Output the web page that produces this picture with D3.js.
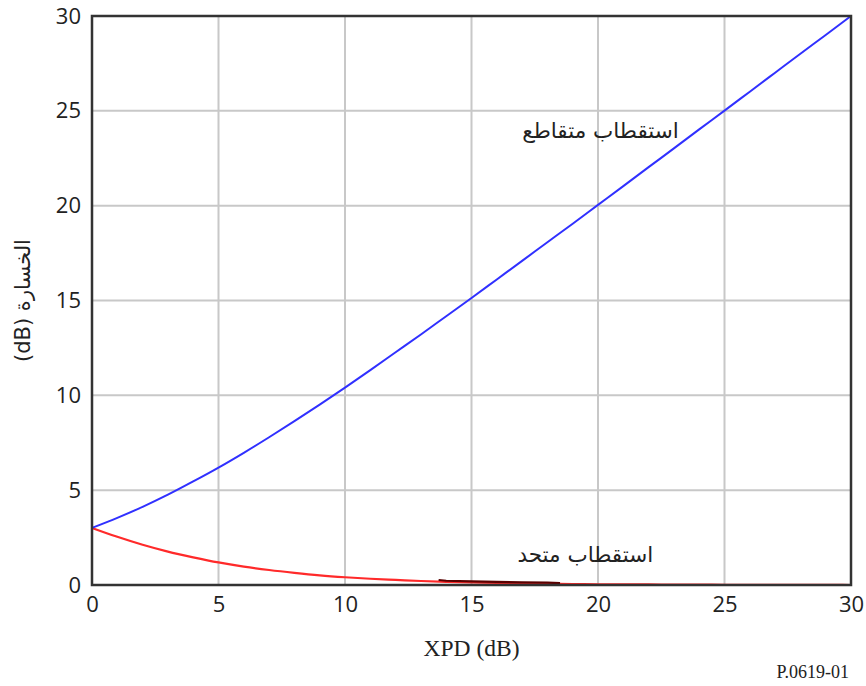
<!DOCTYPE html>
<html>
<head>
<meta charset="utf-8">
<script src="https://cdn.jsdelivr.net/npm/d3@7"></script>
<style>
  html, body { margin: 0; padding: 0; background: #fff; }
  svg { display: block; }
</style>
</head>
<body>
<div id="chart"></div>
<script>
// Polarization mismatch loss versus XPD
const xpd = [0,1,2,3,4,5,6,7,8,9,10,11,12,13,14,15,16,17,18,19,20,21,22,23,24,25,26,27,28,29,30];
const crossPolLoss = [3.01,3.54,4.12,4.76,5.46,6.19,6.97,7.79,8.64,9.51,10.41,11.33,12.27,13.21,14.17,15.13,16.11,17.09,18.07,19.05,20.04,21.03,22.03,23.02,24.02,25.01,26.01,27.01,28.01,29.00,30.00];
const coPolLoss = [3.01,2.54,2.12,1.76,1.46,1.19,0.97,0.79,0.64,0.51,0.41,0.33,0.27,0.21,0.17,0.14,0.11,0.09,0.07,0.05,0.04,0.03,0.03,0.02,0.02,0.01,0.01,0.01,0.01,0.01,0.00];
const xTicks = [0,5,10,15,20,25,30];
const yTicks = [0,5,10,15,20,25,30];
const darkSpan = [13.7, 18.5];

const W = 866, H = 686;
const m = { left: 92, top: 16, right: 15, bottom: 101 };
const iw = W - m.left - m.right, ih = H - m.top - m.bottom;

const svg = d3.select('#chart').append('svg').attr('width', W).attr('height', H);
const g = svg.append('g').attr('transform', `translate(${m.left},${m.top})`);

const x = d3.scaleLinear().domain([0, 30]).range([0, iw]);
const y = d3.scaleLinear().domain([0, 30]).range([ih, 0]);

// grid
g.append('g').selectAll('line.gx').data(xTicks.slice(1, -1)).join('line')
  .attr('x1', d => x(d)).attr('x2', d => x(d)).attr('y1', 0).attr('y2', ih)
  .attr('stroke', '#c8c8c8').attr('stroke-width', 2);
g.append('g').selectAll('line.gy').data(yTicks.slice(1, -1)).join('line')
  .attr('y1', d => y(d)).attr('y2', d => y(d)).attr('x1', 0).attr('x2', iw)
  .attr('stroke', '#c8c8c8').attr('stroke-width', 2);

// axes (tick labels only)
const xAxis = g.append('g').attr('transform', `translate(0,${ih})`)
  .call(d3.axisBottom(x).tickValues(xTicks).tickSize(0).tickPadding(11).tickFormat(d3.format('d')));
const yAxis = g.append('g')
  .call(d3.axisLeft(y).tickValues(yTicks).tickSize(0).tickPadding(11).tickFormat(d3.format('d')));
[xAxis, yAxis].forEach(a => {
  a.select('.domain').remove();
  a.selectAll('text').attr('font-family', "'Open Sans', sans-serif").attr('font-size', 22).attr('fill', '#222');
});

// series
const pts = ys => xpd.map((v, i) => [v, ys[i]]);
const line = d3.line().x(d => x(d[0])).y(d => y(d[1])).curve(d3.curveMonotoneX);

g.append('path').datum(pts(coPolLoss)).attr('d', line)
  .attr('fill', 'none').attr('stroke', '#ff2a2a').attr('stroke-width', 2.2);
g.append('path').datum(pts(coPolLoss).filter(d => d[0] >= 13 && d[0] <= 19))
  .attr('d', d3.line().x(d => x(Math.min(Math.max(d[0], darkSpan[0]), darkSpan[1]))).y(d => y(d[1]) - 1))
  .attr('fill', 'none').attr('stroke', '#5a0000').attr('stroke-width', 2.2);
g.append('path').datum(pts(crossPolLoss)).attr('d', line)
  .attr('fill', 'none').attr('stroke', '#3030ff').attr('stroke-width', 2);

// frame
g.append('rect').attr('x', 0).attr('y', 0).attr('width', iw).attr('height', ih)
  .attr('fill', 'none').attr('stroke', '#333').attr('stroke-width', 2.5);

// annotations
g.append('text').attr('x', x(20.1)).attr('y', y(23.55))
  .attr('text-anchor', 'middle').attr('font-family', "'DejaVu Sans', sans-serif").attr('font-size', 21.5).attr('fill', '#222')
  .text('استقطاب متقاطع');
g.append('text').attr('x', x(19.5)).attr('y', y(1.2))
  .attr('text-anchor', 'middle').attr('font-family', "'DejaVu Sans', sans-serif").attr('font-size', 21.5).attr('fill', '#222')
  .text('استقطاب متحد');

// axis titles
svg.append('text').attr('x', m.left + x(15)).attr('y', 656)
  .attr('text-anchor', 'middle').attr('font-family', "'Liberation Serif', serif").attr('font-size', 23.5).attr('fill', '#222')
  .text('XPD (dB)');
svg.append('text').attr('transform', `translate(30,${m.top + y(15)}) rotate(-90)`)
  .attr('text-anchor', 'middle').attr('font-family', "'DejaVu Sans', sans-serif").attr('font-size', 21).attr('fill', '#222')
  .text('(dB) الخسارة');
svg.append('text').attr('x', 849).attr('y', 678)
  .attr('text-anchor', 'end').attr('font-family', "'Liberation Serif', serif").attr('font-size', 18).attr('fill', '#222')
  .text('P.0619-01');
</script>
</body>
</html>
